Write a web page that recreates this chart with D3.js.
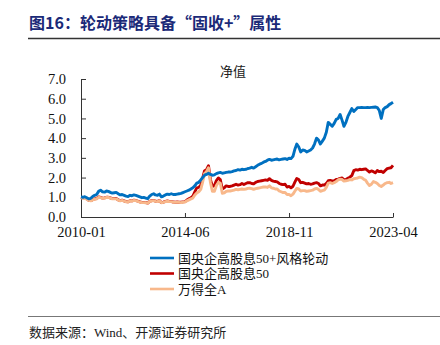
<!DOCTYPE html>
<html><head><meta charset="utf-8">
<script src="https://cdn.jsdelivr.net/npm/d3@7"></script>
<style>
html,body{margin:0;padding:0;background:#fff;}
svg{display:block;}
</style></head>
<body>
<svg id="chart" width="440" height="345"></svg>
<script>
// ---- data ----
const startMonth = "2010-01";
const xTickLabels = ["2010-01", "2014-06", "2018-11", "2023-04"];
const yTicks = [0, 1, 2, 3, 4, 5, 6, 7];
const seriesNames = ["国央企高股息50+风格轮动", "国央企高股息50", "万得全A"];

const rotation = [
  1.02,1.00,1.03,0.98,0.92,0.95,1.04,1.10,1.14,1.30,1.36,1.28,
  1.26,1.32,1.30,1.25,1.21,1.23,1.25,1.18,1.12,1.14,1.10,1.06,
  1.04,1.10,1.08,1.12,1.10,1.06,1.02,0.98,0.99,0.96,0.93,1.06,
  1.14,1.18,1.12,1.10,1.16,1.02,1.06,1.12,1.16,1.14,1.18,1.14,
  1.14,1.16,1.18,1.20,1.24,1.28,1.32,1.36,1.42,1.48,1.58,1.72,
  1.76,1.88,2.00,2.12,2.16,2.22,2.16,2.12,2.14,2.20,2.24,2.26,
  2.22,2.24,2.26,2.28,2.28,2.30,2.34,2.36,2.40,2.38,2.42,2.40,
  2.42,2.46,2.48,2.52,2.48,2.55,2.62,2.68,2.72,2.78,2.82,2.88,
  2.92,2.88,2.90,2.92,2.94,2.90,2.92,2.94,2.96,2.92,2.98,2.96,
  3.08,3.45,3.70,3.55,3.30,3.40,3.38,3.30,3.35,3.40,3.50,3.70,
  4.00,3.90,3.70,3.85,4.00,4.30,4.80,4.70,4.60,4.75,4.95,5.00,
  5.20,4.90,4.60,4.80,5.10,5.30,5.50,5.35,5.45,5.55,5.55,5.56,
  5.55,5.55,5.56,5.55,5.56,5.57,5.58,5.55,5.40,5.00,5.45,5.55,
  5.60,5.70,5.75,5.82
];
const dividend = [
  1.00,0.97,0.99,0.92,0.85,0.83,0.88,0.92,0.94,1.02,0.99,0.96,
  0.97,1.00,1.00,0.97,0.93,0.93,0.94,0.87,0.83,0.85,0.82,0.78,
  0.77,0.83,0.82,0.85,0.84,0.80,0.77,0.74,0.74,0.73,0.71,0.79,
  0.83,0.84,0.80,0.79,0.83,0.73,0.75,0.79,0.81,0.79,0.79,0.76,
  0.75,0.76,0.75,0.75,0.77,0.78,0.86,0.92,0.98,1.05,1.28,1.48,
  1.50,1.62,1.95,2.35,2.40,2.60,1.90,1.55,1.60,1.85,1.98,1.90,
  1.42,1.48,1.58,1.55,1.55,1.58,1.62,1.66,1.62,1.64,1.70,1.65,
  1.70,1.74,1.74,1.70,1.68,1.76,1.80,1.82,1.84,1.86,1.88,1.86,
  1.94,1.86,1.82,1.80,1.78,1.70,1.66,1.64,1.66,1.52,1.55,1.48,
  1.56,1.78,1.95,1.90,1.74,1.76,1.72,1.68,1.70,1.66,1.68,1.72,
  1.74,1.70,1.58,1.62,1.62,1.70,1.84,1.86,1.82,1.84,1.90,1.92,
  1.96,1.98,1.88,1.90,1.96,2.02,2.10,2.35,2.40,2.38,2.42,2.40,
  2.42,2.44,2.36,2.28,2.34,2.30,2.24,2.36,2.30,2.32,2.26,2.36,
  2.45,2.48,2.50,2.62
];
const windA = [
  0.98,0.95,0.97,0.90,0.84,0.82,0.87,0.90,0.92,1.00,0.98,0.95,
  0.96,0.99,0.99,0.96,0.92,0.92,0.92,0.86,0.82,0.84,0.81,0.77,
  0.76,0.82,0.81,0.84,0.83,0.79,0.76,0.73,0.73,0.72,0.70,0.78,
  0.82,0.83,0.79,0.78,0.82,0.72,0.74,0.78,0.80,0.78,0.78,0.75,
  0.74,0.75,0.74,0.73,0.75,0.76,0.82,0.87,0.92,0.96,1.12,1.22,
  1.28,1.40,1.75,2.20,2.30,2.50,1.75,1.30,1.30,1.60,1.75,1.72,
  1.20,1.22,1.30,1.32,1.32,1.34,1.36,1.40,1.38,1.40,1.42,1.40,
  1.42,1.45,1.46,1.44,1.40,1.44,1.46,1.48,1.50,1.52,1.53,1.50,
  1.58,1.48,1.46,1.42,1.42,1.32,1.28,1.24,1.24,1.14,1.14,1.08,
  1.16,1.32,1.45,1.42,1.32,1.34,1.34,1.30,1.32,1.34,1.36,1.42,
  1.45,1.40,1.30,1.34,1.36,1.50,1.72,1.74,1.70,1.74,1.80,1.88,
  1.92,1.90,1.82,1.84,1.86,1.90,1.88,1.94,1.96,1.98,2.02,2.00,
  1.92,1.86,1.72,1.60,1.66,1.80,1.76,1.70,1.60,1.55,1.62,1.70,
  1.74,1.76,1.70,1.74
];

// ---- chart ----
const svg = d3.select("#chart");
const parseM = d3.timeParse("%Y-%m");
const fmtM = d3.timeFormat("%Y-%m");
const t0 = parseM(startMonth);
const dateAt = i => d3.timeMonth.offset(t0, i);

const serif = "'Liberation Serif','Noto Sans CJK SC',serif";
const colors = ["#0070C0", "#C00000", "#F8B88B"];

// title
svg.append("text").attr("x", 29).attr("y", 29)
  .attr("font-family", "'Noto Sans CJK SC',sans-serif").attr("font-weight", "bold")
  .attr("font-size", 16).attr("fill", "#1B2A78")
  .text("图16：轮动策略具备“固收+”属性");
svg.append("line").attr("x1", 28).attr("x2", 440).attr("y1", 38.5).attr("y2", 38.5)
  .attr("stroke", "#333").attr("stroke-width", 1.5);

const x = d3.scaleTime().domain([parseM(xTickLabels[0]), parseM(xTickLabels[3])]).range([81, 393]);
const y = d3.scaleLinear().domain([0, 7]).range([217, 79]);

// chart subtitle
svg.append("text").attr("x", 233).attr("y", 76).attr("text-anchor", "middle")
  .attr("font-family", serif).attr("font-size", 13).attr("fill", "#222").text("净值");

// axes
const xAxis = svg.append("g").attr("transform", "translate(0,217)")
  .call(d3.axisBottom(x).tickValues(xTickLabels.map(parseM)).tickFormat(fmtM)
    .tickSize(-4).tickSizeOuter(0).tickPadding(10));
const yAxis = svg.append("g").attr("transform", "translate(81,0)")
  .call(d3.axisLeft(y).tickValues(yTicks).tickFormat(d3.format(".1f"))
    .tickSize(-5).tickSizeOuter(0).tickPadding(15));
[xAxis, yAxis].forEach(g => {
  g.selectAll("path,line").attr("stroke", "#333").attr("stroke-width", 1);
  g.selectAll("text").attr("font-family", serif).attr("font-size", 14.5).attr("fill", "#111");
});

// lines
const line = d3.line().x((d, i) => x(dateAt(i))).y(d => y(d)).curve(d3.curveLinear);
const seriesData = [rotation, dividend, windA];
[1, 2, 0].forEach(k => {
  svg.append("path").datum(seriesData[k]).attr("d", line)
    .attr("fill", "none").attr("stroke", colors[k]).attr("stroke-width", 2.9)
    .attr("stroke-linejoin", "round");
});

// legend
const leg = svg.append("g");
seriesNames.forEach((n, i) => {
  const yy = 258 + i * 15.5;
  leg.append("line").attr("x1", 150).attr("x2", 174).attr("y1", yy).attr("y2", yy)
    .attr("stroke", colors[i]).attr("stroke-width", 2.6);
  leg.append("text").attr("x", 178).attr("y", yy + 4.5)
    .attr("font-family", serif).attr("font-size", 13).attr("fill", "#111").text(n);
});

// source
svg.append("line").attr("x1", 28).attr("x2", 440).attr("y1", 316.5).attr("y2", 316.5)
  .attr("stroke", "#777").attr("stroke-width", 1);
svg.append("text").attr("x", 29).attr("y", 337)
  .attr("font-family", serif).attr("font-size", 13).attr("fill", "#222")
  .text("数据来源：Wind、开源证券研究所");
</script>
</body></html>
